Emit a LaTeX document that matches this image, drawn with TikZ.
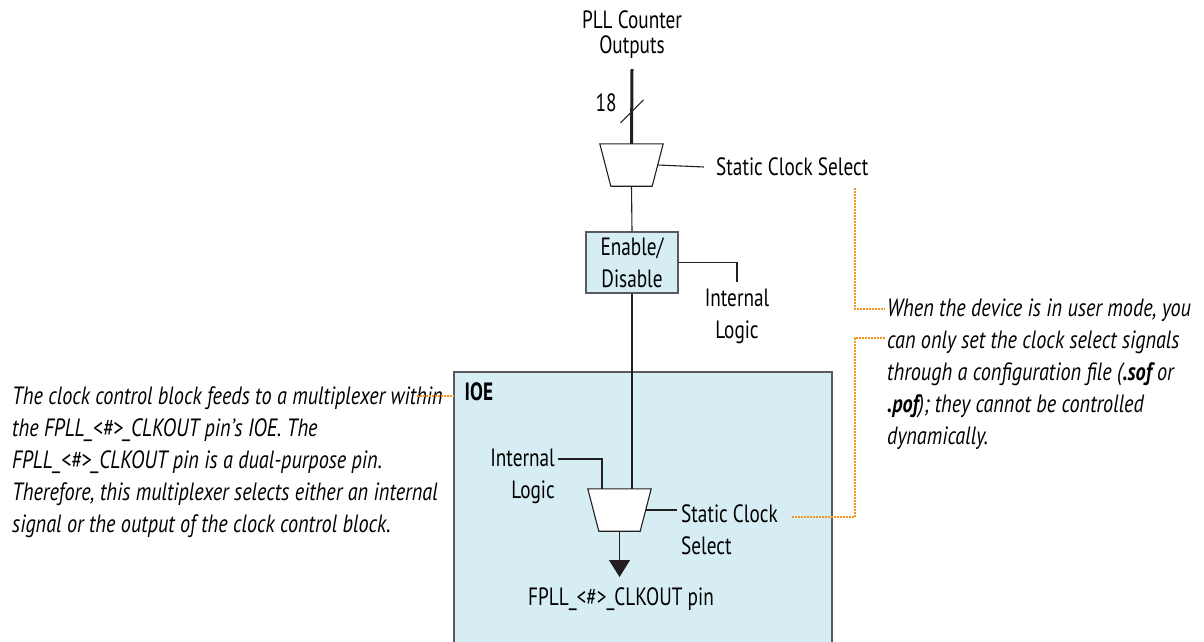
\documentclass[tikz,border=0pt]{standalone}
\usepackage{fontspec}
\setmainfont[FakeStretch=0.77,ItalicFeatures={FakeStretch=0.81},
  BoldItalicFeatures={FakeStretch=0.81}]{PT Sans}
\usepackage{xcolor}
\usetikzlibrary{arrows.meta,positioning}

\definecolor{ioeblue}{RGB}{214,237,244}
\definecolor{hintorange}{RGB}{247,148,29}
\definecolor{wiregray}{RGB}{35,31,32}
\definecolor{edgegray}{RGB}{90,90,92}

\begin{document}
\begin{tikzpicture}[x=1pt, y=-1pt,
  every node/.style={font=\fontsize{25}{32}\selectfont, inner sep=0pt},
  muxbox/.style={minimum width=63pt, minimum height=42pt},
  wire/.style={draw=wiregray, line width=1.1pt},
  hint/.style={draw=hintorange, line width=1.6pt, dash pattern=on 1.6pt off 1.4pt},
  note/.style={font=\fontsize{25}{32}\selectfont\itshape, align=left, anchor=west}]
  \path[use as bounding box, clip] (0,0) rectangle (1204,642);

  % IOE block
  \node[draw=edgegray, fill=ioeblue, line width=1.1pt, minimum width=378pt,
    minimum height=328pt] (ioe) at (643,536) {};
  \node[anchor=north west, font=\fontsize{25}{32}\selectfont\bfseries]
    (ioelbl) at ([shift={(11,11)}]ioe.north west) {IOE};

  % clock select path
  \node[align=center, font=\fontsize{25}{25}\selectfont] (pll) at (632,35) {PLL Counter\\Outputs};
  \node[muxbox] (mux1) at (631.5,165) {};
  \node (bits) at (606,103) {18};
  \node[anchor=west] (sel1) at (716,167) {Static Clock Select};
  \node[draw=edgegray, fill=ioeblue, line width=1.1pt, align=center,
    minimum width=92pt, minimum height=61pt] (en) at (632,262.5) {Enable/\\Disable};
  \node[anchor=north, align=center] (int1) at (737,289) {Internal\\Logic};

  \node[muxbox] (mux2) at (619.5,510) {};
  \node[anchor=east, align=right] (int2) at (555,476) {Internal\\Logic};
  \node[anchor=west, align=left] (sel2) at (681,530) {Static Clock\\Select};
  \node (pin) at (621,599) {FPLL\_<\#>\_CLKOUT pin};

  % the two multiplexers
  \foreach \m in {mux1,mux2}
    \draw[wire, fill=white] (\m.north west) -- (\m.north east)
      -- ([xshift=-11pt]\m.south east) -- ([xshift=11pt]\m.south west) -- cycle;

  \draw[wire, line width=3pt] ([yshift=-10pt]pll.south) -- (mux1.north);
  \draw[wire] ([shift={(-11,-21)}]mux1.north) -- ([shift={(12,-44)}]mux1.north);
  \draw[wire] ([xshift=-5.5pt]mux1.east) -- ([xshift=-12pt]sel1.west);
  \draw[wire] (mux1.south) -- (en.north);
  \draw[wire] (en.east) -| ([yshift=7pt]int1.north);
  \draw[wire] (en.south) -- (en.south |- mux2.north);
  \draw[wire] ([shift={(3,-17)}]int2.east) -| ([xshift=-17.5pt]mux2.north);
  \coordinate (s2) at ([xshift=-4pt]sel2.west);
  \draw[wire] ([xshift=-5.5pt]mux2.east) -- (mux2.east -| s2);
  \draw[wire, -{Triangle[width=21pt,length=17pt]}] (mux2.south) -- (mux2.south |- 0,577);

  % notes
  \node[note] (lnote) at (12,462)
    {The clock control block feeds to a multiplexer within\\
     the FPLL\_<\#>\_CLKOUT pin’s IOE. The\\
     FPLL\_<\#>\_CLKOUT pin is a dual-purpose pin.\\
     Therefore, this multiplexer selects either an internal\\
     signal or the output of the clock control block.};
  \node[note] (rnote) at (887,374)
    {When the device is in user mode, you\\
     can only set the clock select signals\\
     through a configuration file (\textbf{.sof} or\\
     \textbf{.pof}); they cannot be controlled\\
     dynamically.};

  \coordinate (lh) at (417,396);
  \draw[hint] (lh) -- (lh -| ioe.west);
  \coordinate (rh) at (855,188);
  \coordinate (rt) at (885,309);
  \coordinate (rb) at (885,338);
  \coordinate (sh) at (792,517);
  \draw[hint] (rh) |- (rt);
  \draw[hint] (rb) -| (rh |- sh) -- (sh);
\end{tikzpicture}
\end{document}
